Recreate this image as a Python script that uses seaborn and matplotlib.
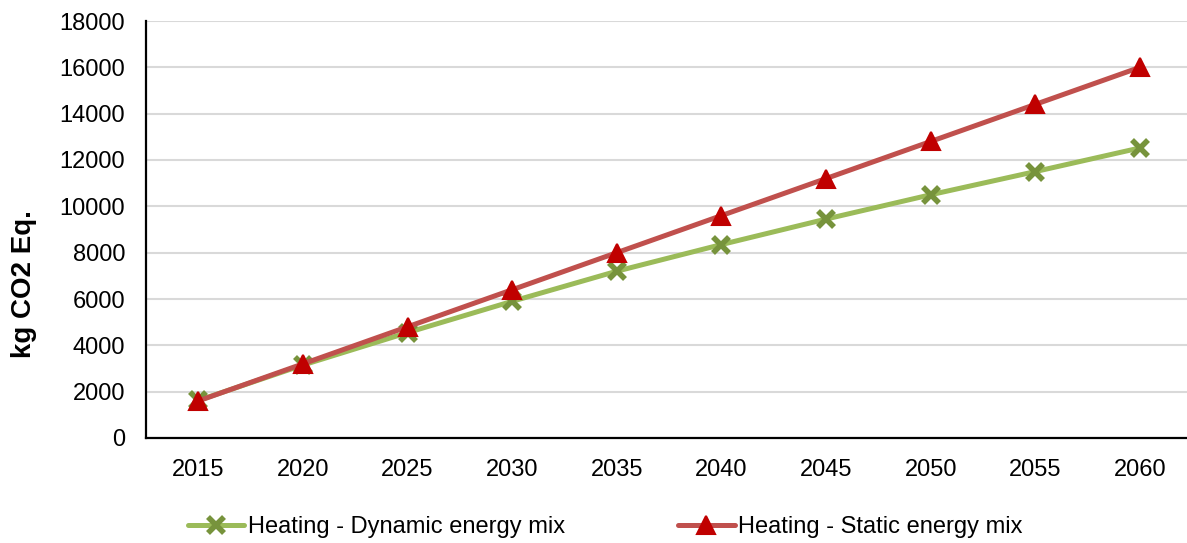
import matplotlib
matplotlib.use("Agg")
import matplotlib.pyplot as plt
import seaborn as sns
import pandas as pd
from matplotlib.lines import Line2D

years = ["2015", "2020", "2025", "2030", "2035", "2040", "2045", "2050", "2055", "2060"]
dynamic_mix = [1620, 3150, 4550, 5900, 7200, 8350, 9450, 10500, 11500, 12520]
static_mix = [1600, 3200, 4800, 6400, 8000, 9600, 11200, 12800, 14400, 16000]
series_names = ["Heating - Dynamic energy mix", "Heating - Static energy mix"]
y_ticks = [0, 2000, 4000, 6000, 8000, 10000, 12000, 14000, 16000, 18000]

sns.set_theme(style="white")
plt.rcParams["font.family"] = ["Liberation Sans", "DejaVu Sans"]

df = pd.DataFrame({
    "pos": list(range(len(years))) * 2,
    "value": dynamic_mix + static_mix,
    "series": [series_names[0]] * len(years) + [series_names[1]] * len(years),
})

fig = plt.figure(figsize=(11.87, 5.43), dpi=100)
ax = fig.add_axes([146 / 1187, 1 - 438 / 543, 1 - 146 / 1187, (438 - 21) / 543])

line_colors = {series_names[0]: "#9BBB59", series_names[1]: "#C0504D"}
styles = {
    series_names[0]: dict(marker="x", markersize=11, markeredgewidth=4,
                          markeredgecolor="#77933C", markerfacecolor="#77933C"),
    series_names[1]: dict(marker="^", markersize=12.5, markeredgewidth=1.5,
                          markeredgecolor="#C00000", markerfacecolor="#C00000"),
}

for name in series_names:
    sub = df[df["series"] == name]
    sns.lineplot(data=sub, x="pos", y="value", ax=ax, color=line_colors[name],
                 linewidth=3.6, legend=False, **styles[name])

ax.set_ylim(0, 18000)
ax.set_yticks(y_ticks)
ax.set_yticklabels([str(t) for t in y_ticks], fontsize=17, color="#000000")
ax.set_xlim(-0.5, 9.45)
ax.set_xticks(range(len(years)))
ax.set_xticklabels(years, fontsize=17, color="#000000")
ax.tick_params(axis="both", length=0)
ax.tick_params(axis="y", pad=15)
ax.tick_params(axis="x", pad=15)

ax.set_xlabel("")
ax.set_ylabel("kg CO2 Eq.", fontsize=20, fontweight="bold", color="#000000")
ax.yaxis.set_label_coords(-0.105, 0.37)

ax.grid(axis="y", color="#D9D9D9", linewidth=1.5)
ax.grid(axis="x", visible=False)
ax.set_axisbelow(True)
for side in ["top", "right"]:
    ax.spines[side].set_visible(False)
for side in ["left", "bottom"]:
    ax.spines[side].set_color("#000000")
    ax.spines[side].set_linewidth(1.6)

handles = [
    Line2D([], [], color=line_colors[series_names[0]], linewidth=3.6, **styles[series_names[0]]),
    Line2D([], [], color=line_colors[series_names[1]], linewidth=3.6, **styles[series_names[1]]),
]
leg = fig.legend(handles, series_names, loc="center", bbox_to_anchor=(605 / 1187, 1 - 527 / 543),
                 ncol=2, frameon=False, fontsize=17, handlelength=2.4, handletextpad=0.13,
                 columnspacing=4.8, borderpad=0, borderaxespad=0)
for txt in leg.get_texts():
    txt.set_color("#000000")

fig.savefig("out.png", dpi=100)
